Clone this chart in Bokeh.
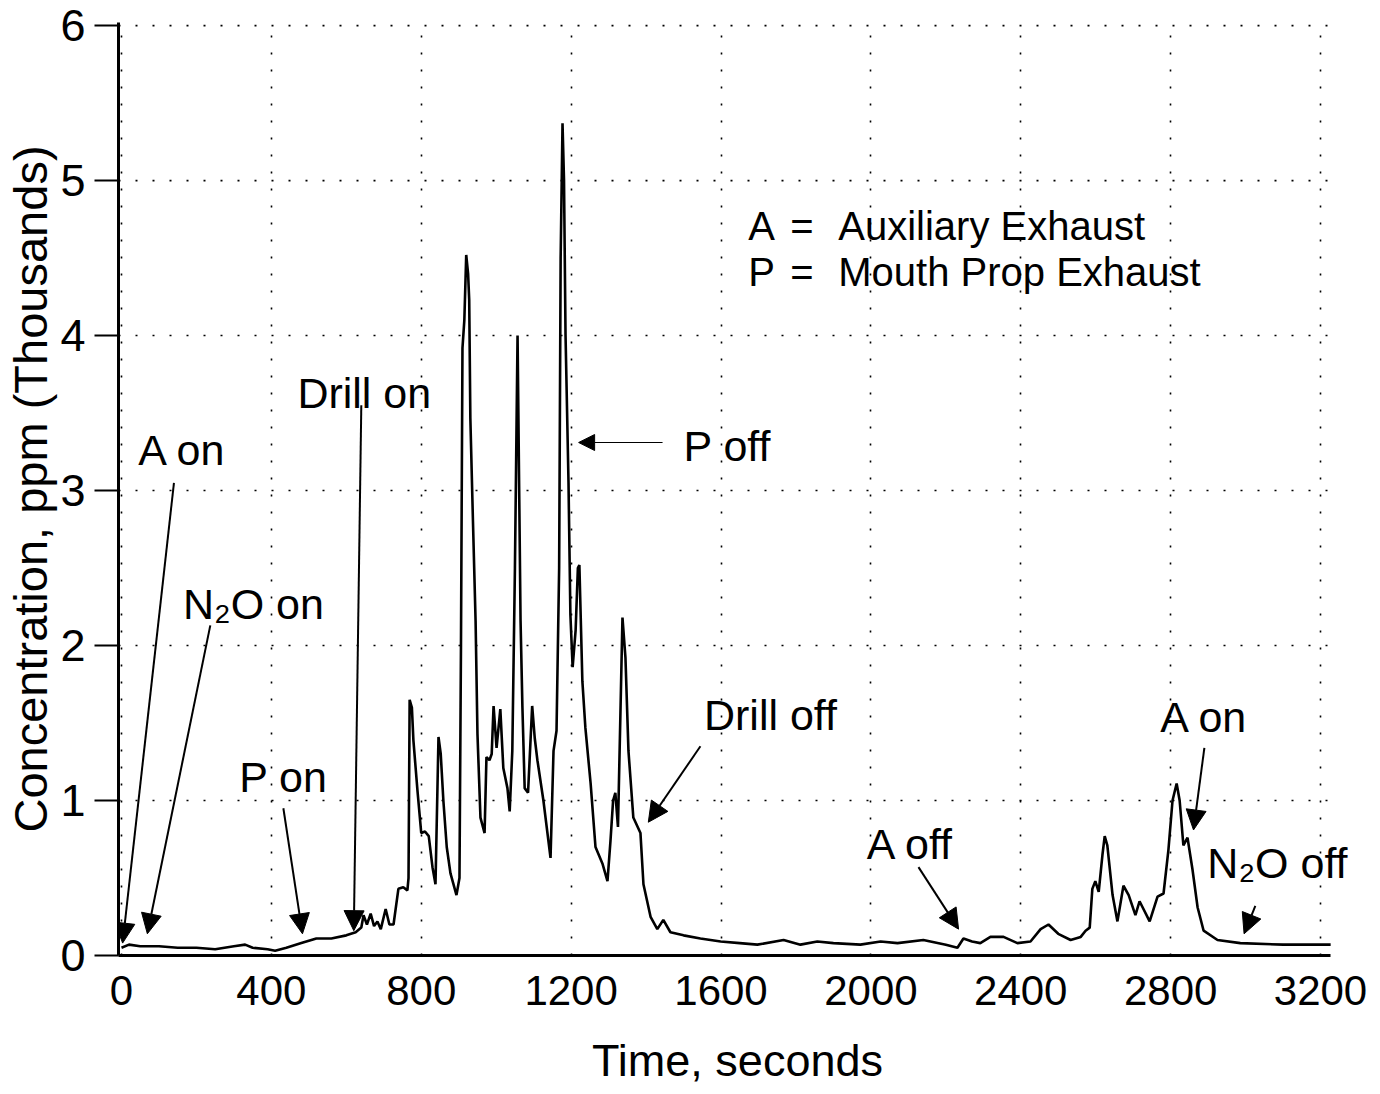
from bokeh.plotting import figure
from bokeh.models import Arrow, NormalHead, ColumnDataSource, FixedTicker, Range1d, LabelSet
from bokeh.core.properties import value
from bokeh.embed import file_html
from bokeh.resources import INLINE

# ---- data (time in seconds, concentration in thousands of ppm) ----
time_s = [0, 20, 50, 100, 150, 200, 250, 300, 330, 350, 390, 410, 440, 480, 520, 560, 600,
          625, 640, 646, 655, 665, 674, 683, 692, 705, 715, 726, 739, 752, 763, 766, 769, 775,
          779, 790, 800, 810, 820, 830, 838, 846, 852, 859, 868, 878, 894, 902, 906, 910, 915,
          920, 925, 928, 931, 938, 945, 950, 958, 969, 974, 982, 988, 993, 1001, 1011, 1019,
          1030, 1036, 1043, 1050, 1057, 1065, 1070, 1076, 1085, 1096, 1103, 1110, 1126, 1145,
          1153, 1161, 1168, 1172, 1177, 1181, 1185, 1193, 1198, 1204, 1212, 1218, 1222, 1230,
          1238, 1252, 1265, 1284, 1297, 1305, 1312, 1318, 1325, 1331, 1337, 1345, 1353, 1366,
          1385, 1393, 1412, 1430, 1446, 1465, 1500, 1545, 1599, 1650, 1697, 1767, 1812, 1857,
          1900, 1972, 2026, 2071, 2140, 2200, 2231, 2247, 2270, 2292, 2319, 2354, 2391, 2426,
          2453, 2474, 2500, 2533, 2560, 2573, 2584, 2591, 2599, 2608, 2618, 2624, 2631, 2645,
          2658, 2674, 2688, 2706, 2717, 2744, 2765, 2781, 2794, 2805, 2816, 2824, 2834, 2845,
          2858, 2872, 2888, 2925, 2986, 3100, 3227]
conc_k = [0.05, 0.07, 0.06, 0.06, 0.05, 0.05, 0.04, 0.06, 0.07, 0.05, 0.04, 0.03, 0.05, 0.08,
          0.11, 0.11, 0.13, 0.15, 0.18, 0.26, 0.20, 0.27, 0.19, 0.22, 0.17, 0.30, 0.20, 0.20,
          0.43, 0.44, 0.42, 0.50, 1.65, 1.60, 1.39, 1.06, 0.79, 0.80, 0.77, 0.57, 0.46, 1.41,
          1.30, 1.00, 0.70, 0.53, 0.39, 0.50, 2.00, 3.92, 4.10, 4.52, 4.40, 4.23, 3.47, 2.80,
          2.16, 1.43, 0.89, 0.79, 1.28, 1.26, 1.30, 1.61, 1.34, 1.59, 1.21, 1.08, 0.93, 1.32,
          2.50, 4.00, 2.16, 1.60, 1.08, 1.05, 1.61, 1.40, 1.26, 1.00, 0.63, 1.32, 1.45, 2.50,
          4.50, 5.37, 5.00, 4.01, 3.05, 2.20, 1.86, 2.10, 2.50, 2.52, 1.77, 1.47, 1.11, 0.70,
          0.59, 0.48, 0.74, 1.00, 1.05, 0.83, 1.50, 2.18, 1.92, 1.32, 0.89, 0.79, 0.46, 0.25,
          0.17, 0.23, 0.15, 0.13, 0.11, 0.09, 0.08, 0.07, 0.10, 0.07, 0.09, 0.08, 0.07, 0.09,
          0.08, 0.10, 0.07, 0.05, 0.11, 0.09, 0.08, 0.12, 0.12, 0.08, 0.09, 0.17, 0.20, 0.14,
          0.10, 0.12, 0.16, 0.18, 0.43, 0.48, 0.41, 0.65, 0.77, 0.71, 0.39, 0.22, 0.45, 0.39,
          0.26, 0.35, 0.22, 0.38, 0.40, 0.68, 1.00, 1.11, 1.00, 0.71, 0.76, 0.56, 0.31, 0.16,
          0.10, 0.08, 0.07, 0.07]

x_ticks = [0, 400, 800, 1200, 1600, 2000, 2400, 2800, 3200]
y_ticks = [0, 1, 2, 3, 4, 5, 6]
x_axis_span = (-8, 3227)

x_title = "Time, seconds"
y_title = "Concentration, ppm (Thousands)"

# event annotations
event_labels = ["A on", "N\u2082O on", "P on", "Drill on", "P off", "Drill off", "A off", "A on", "N\u2082O off"]
event_text_x = [163, 352, 432, 648, 1617, 1732, 2106, 2890, 3085]
event_text_y = [3.26, 2.27, 1.15, 3.63, 3.29, 1.55, 0.72, 1.54, 0.60]
arrow_x_start = [140, 237, 432, 640, 1545, 2127, 2890, 3026]
arrow_y_start = [3.05, 2.13, 0.95, 3.55, 1.35, 0.57, 1.34, 0.32]
arrow_x_end = [3, 69, 483, 620, 1406, 2234, 2861, 2996]
arrow_y_end = [0.08, 0.14, 0.14, 0.16, 0.86, 0.17, 0.81, 0.14]
poff_arrow = dict(x_start=1444, y_start=3.31, x_end=1220, y_end=3.31)

legend_keys = ["A", "P"]
legend_desc = ["Auxiliary Exhaust", "Mouth Prop Exhaust"]
legend_y = [4.71, 4.41]

FONT = "Liberation Sans"

p = figure(width=1380, height=1094, x_range=Range1d(-8, 3296), y_range=Range1d(0, 6.02),
           output_backend="svg", toolbar_location=None,
           min_border_left=118, min_border_right=24, min_border_top=22, min_border_bottom=139)
p.outline_line_color = None
p.background_fill_color = "white"
p.border_fill_color = "white"

# axes
p.xaxis.ticker = FixedTicker(ticks=x_ticks)
p.yaxis.ticker = FixedTicker(ticks=y_ticks)
p.xaxis.bounds = x_axis_span
for ax in (p.xaxis[0], p.yaxis[0]):
    ax.axis_line_color = "black"
    ax.axis_line_width = 3
    ax.minor_tick_line_color = None
    ax.major_label_text_font = FONT
    ax.major_label_text_color = "black"
    ax.axis_label_text_font = FONT
    ax.axis_label_text_font_style = "normal"
    ax.axis_label_text_color = "black"
p.xaxis.major_tick_line_color = None
p.xaxis.major_label_text_font_size = "42px"
p.xaxis.major_label_standoff = 14
p.xaxis.axis_label = x_title
p.xaxis.axis_label_text_font_size = "45px"
p.xaxis.axis_label_standoff = 27

p.yaxis.major_tick_out = 24
p.yaxis.major_tick_in = 0
p.yaxis.major_tick_line_width = 2
p.yaxis.major_tick_line_color = "black"
p.yaxis.major_label_text_font_size = "45px"
p.yaxis.major_label_standoff = 9
p.yaxis.axis_label = y_title
p.yaxis.axis_label_text_font_size = "47px"
p.yaxis.axis_label_standoff = 0

# dotted grid
p.xgrid.ticker = FixedTicker(ticks=x_ticks)
p.xgrid.grid_line_color = "black"
p.xgrid.grid_line_dash = "2 15"
p.xgrid.grid_line_width = 1.6
p.ygrid.grid_line_color = None
p.segment(x0=[x_axis_span[0]] * len(y_ticks), y0=y_ticks,
          x1=[x_axis_span[1]] * len(y_ticks), y1=y_ticks,
          line_color="black", line_dash="2 15", line_width=1.6)

# trace
p.line(time_s, conc_k, line_color="black", line_width=2.6)

# arrows
arrow_src = ColumnDataSource(dict(x0=arrow_x_start, y0=arrow_y_start, x1=arrow_x_end, y1=arrow_y_end))
p.add_layout(Arrow(end=NormalHead(size=20, fill_color="black", line_color="black"),
                   x_start="x0", y_start="y0", x_end="x1", y_end="y1", source=arrow_src,
                   line_color="black", line_width=2))
p.add_layout(Arrow(end=NormalHead(size=16, fill_color="black", line_color="black"),
                   line_color="black", line_width=1.2, **poff_arrow))

# event labels
ev_src = ColumnDataSource(dict(x=event_text_x, y=event_text_y, t=event_labels))
p.add_layout(LabelSet(x="x", y="y", text="t", source=ev_src, text_font=value(FONT),
                      text_font_size=value("43px"), text_align="center",
                      text_baseline="middle", text_color="black"))

# key
key_src = ColumnDataSource(dict(k=legend_keys, d=legend_desc, y=legend_y,
                                xk=[1673] * 2, xe=[1785] * 2, xd=[1913] * 2, eq=["="] * 2))
for col, xcol in (("k", "xk"), ("eq", "xe"), ("d", "xd")):
    p.add_layout(LabelSet(x=xcol, y="y", text=col, source=key_src, text_font=value(FONT),
                          text_font_size=value("40px"), text_align="left",
                          text_baseline="middle", text_color="black"))

open("out.html", "w").write(file_html(p, INLINE))
